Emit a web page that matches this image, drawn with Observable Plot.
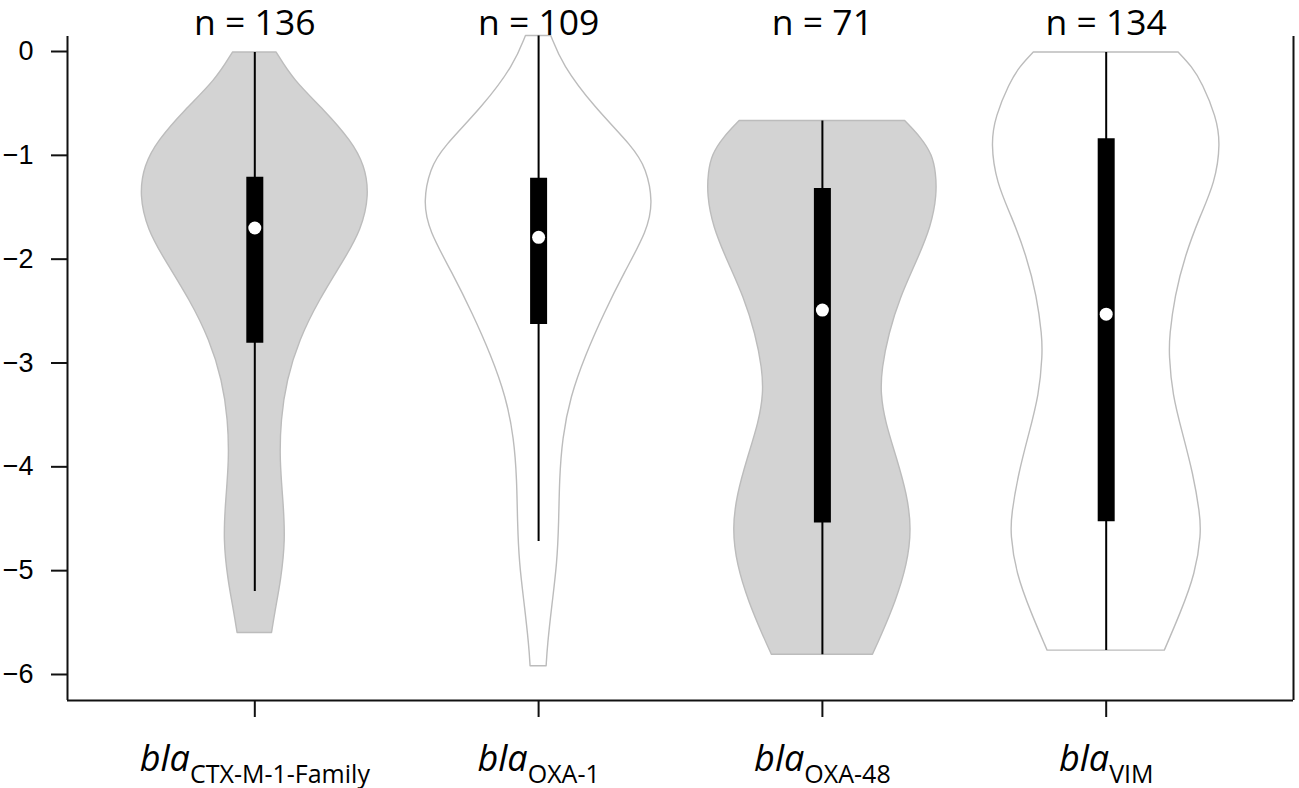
<!DOCTYPE html>
<html><head><meta charset="utf-8">
<script src="https://cdn.jsdelivr.net/npm/d3@7"></script>
<script src="https://cdn.jsdelivr.net/npm/@observablehq/plot@0.6"></script>
<style>
html,body{margin:0;padding:0;background:#fff}
#chart svg{display:block}
</style>
</head><body><div id="chart"></div>
<script>
// ---- data ----
const genes = ["CTX-M-1-Family", "OXA-1", "OXA-48", "VIM"];
const counts = [136, 109, 71, 134];
const medians = [-1.70, -1.79, -2.49, -2.53];
const q1s = [-2.81, -2.63, -4.54, -4.53];
const q3s = [-1.21, -1.22, -1.32, -0.84];
const whiskerLow = [-5.20, -4.72, -5.81, -5.77];
const whiskerHigh = [-0.01, 0.15, -0.67, -0.01];
// density profiles: [value, relative half-width (max = 1)]
const densityCTX = [[-0.01,0.19],[-0.28,0.34],[-0.57,0.61],[-0.86,0.84],[-1.10,0.96],[-1.39,1.0],[-1.72,0.93],[-2.01,0.78],[-2.40,0.56],[-2.78,0.39],[-3.17,0.28],[-3.55,0.23],[-3.94,0.22],[-4.33,0.25],[-4.71,0.27],[-5.10,0.23],[-5.39,0.18],[-5.60,0.15]];
const densityOXA1 = [[0.15,0.11],[-0.13,0.21],[-0.53,0.48],[-0.93,0.83],[-1.13,0.94],[-1.45,1.0],[-1.73,0.95],[-2.13,0.75],[-2.53,0.57],[-2.93,0.41],[-3.33,0.28],[-3.73,0.21],[-4.13,0.185],[-4.53,0.18],[-4.93,0.165],[-5.33,0.12],[-5.73,0.08],[-5.92,0.07]];
const densityOXA48 = [[-0.67,0.72],[-0.83,0.86],[-1.00,0.96],[-1.17,0.99],[-1.38,1.0],[-1.69,0.95],[-2.03,0.82],[-2.37,0.68],[-2.72,0.58],[-3.06,0.52],[-3.30,0.51],[-3.57,0.55],[-3.92,0.65],[-4.27,0.74],[-4.60,0.78],[-4.95,0.74],[-5.30,0.64],[-5.64,0.51],[-5.81,0.44]];
const densityVIM = [[-0.01,0.63],[-0.15,0.75],[-0.31,0.84],[-0.63,0.96],[-0.89,1.0],[-1.27,0.95],[-1.59,0.82],[-1.97,0.69],[-2.36,0.60],[-2.74,0.555],[-2.92,0.55],[-3.31,0.58],[-3.69,0.67],[-4.07,0.76],[-4.46,0.82],[-4.65,0.83],[-5.03,0.78],[-5.41,0.65],[-5.77,0.51]];
const densities = [densityCTX, densityOXA1, densityOXA48, densityVIM];
const yTicks = [-6, -5, -4, -3, -2, -1, 0];

// ---- layout / style ----
const xDomain = [0.34, 4.66];
const yDomain = [-6.2505, 0.1445];
const HALF = 0.405;
const fills = ["#d3d3d3", "#ffffff", "#d3d3d3", "#ffffff"];

const stats = genes.map((g, i) => ({
  gene: g, pos: i + 1, n: counts[i], median: medians[i],
  q1: q1s[i], q3: q3s[i], lo: whiskerLow[i], hi: whiskerHigh[i]
}));
const rows = [];
densities.forEach((dens, i) => {
  dens.forEach(([v, d]) => rows.push({
    gene: genes[i], y: v, x1: i + 1 - d * HALF, x2: i + 1 + d * HALF, fill: fills[i]
  }));
});

const plot = Plot.plot({
  width: 1299, height: 788,
  marginLeft: 67, marginRight: 6, marginTop: 36, marginBottom: 88,
  x: {domain: xDomain, axis: null},
  y: {domain: yDomain, axis: null},
  color: {type: "identity"},
  style: {background: "white", color: "black", overflow: "visible"},
  marks: [
    Plot.areaX(rows, {y: "y", x1: "x1", x2: "x2", z: "gene", fill: "fill",
      stroke: "#bcbcbc", strokeWidth: 1.4, curve: "basis"}),
    Plot.ruleX(stats, {x: "pos", y1: "lo", y2: "hi", stroke: "black", strokeWidth: 2}),
    Plot.ruleX(stats, {x: "pos", y1: "q1", y2: "q3", stroke: "black", strokeWidth: 17}),
    Plot.dot(stats, {x: "pos", y: "median", r: 6.5, fill: "white", stroke: null}),
    Plot.ruleX(xDomain, {stroke: "#111", strokeWidth: 2}),
    Plot.ruleY([yDomain[0]], {stroke: "#111", strokeWidth: 2}),
    Plot.axisY({ticks: yTicks, tickSize: 16, tickPadding: 18, strokeWidth: 2, stroke: "#111",
      tickFormat: d => d === 0 ? "0" : "\u2212" + Math.abs(d),
      fontSize: 27, fontFamily: "Liberation Sans, Arial, sans-serif"}),
    Plot.axisX({ticks: [1, 2, 3, 4], tickSize: 17, tickPadding: 28, strokeWidth: 2, stroke: "#111",
      tickFormat: d => "bla" + genes[d - 1],
      fontSize: 36, fontFamily: "Open Sans, sans-serif"}),
    Plot.text(stats, {x: "pos", text: d => `n = ${d.n}`, frameAnchor: "top",
      lineAnchor: "bottom", dy: -2, fontSize: 35.5, fontFamily: "Open Sans, sans-serif", fill: "black"})
  ]
});

// y tick labels: enforce font
d3.select(plot).selectAll('g[aria-label="y-axis tick label"]')
  .attr("font-size", 27).attr("font-family", "Liberation Sans, Arial, sans-serif")
  .style("font-size", "27px").attr("fill", "black");

// subscript formatting for x tick labels
d3.select(plot).selectAll('g[aria-label="x-axis tick label"]')
  .attr("font-size", 36).style("font-size", "36px").attr("fill", "black");
d3.select(plot).selectAll('g[aria-label="x-axis tick label"] text').each(function(d, i) {
  const t = d3.select(this);
  t.selectAll("*").remove();
  t.text(null);
  t.append("tspan").attr("font-style", "italic").text("bla");
  t.append("tspan").attr("font-size", 25).attr("dy", 12).text(genes[i]);
});

document.getElementById("chart").appendChild(plot);
</script>
</body></html>
